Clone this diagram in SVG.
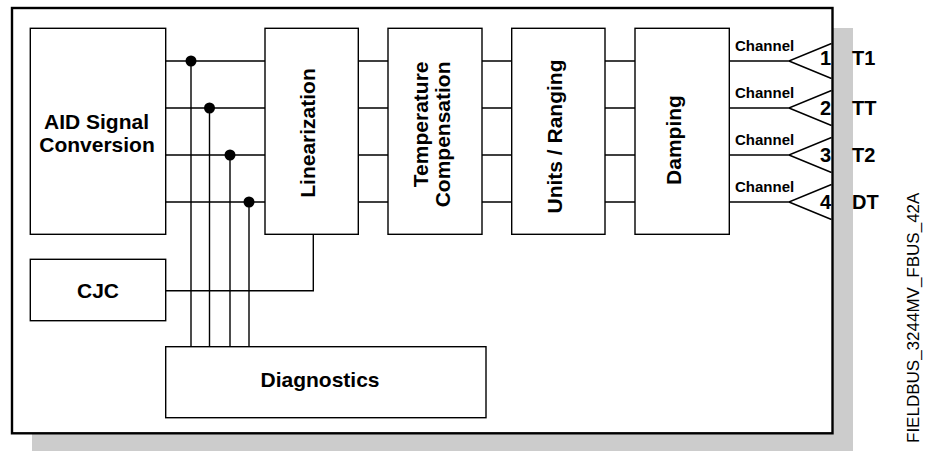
<svg xmlns="http://www.w3.org/2000/svg" width="931" height="451" viewBox="0 0 931 451">
<style>
.box{fill:#fff;stroke:#000;stroke-width:1.4}
.ln{fill:none;stroke:#000;stroke-width:1.4}
.b{font-family:"Liberation Sans",Arial,sans-serif;font-weight:bold;fill:#000}
.big{font-size:21px}
.ch{font-size:15px}
.num{font-size:20px}
.code{font-family:"Liberation Sans",Arial,sans-serif;font-size:17px;fill:#000}
</style>
<rect x="32" y="28" width="821" height="430" fill="#cccccc"/>
<rect x="12" y="8" width="820.5" height="425.3" fill="#fff" stroke="#000" stroke-width="2.4"/>
<g id="connectors">
<path class="ln" d="M165.7 61H265M165.7 108H265M165.7 155H265M165.7 202H265"/>
<path class="ln" d="M358.3 61H388M358.3 108H388M358.3 155H388M358.3 202H388"/>
<path class="ln" d="M482 61H511.7M482 108H511.7M482 155H511.7M482 202H511.7"/>
<path class="ln" d="M605 61H635M605 108H635M605 155H635M605 202H635"/>
<path class="ln" d="M729.3 61H789L831.5 43.5M789 61L831.5 78.5"/>
<path class="ln" d="M729.3 108H789L831.5 90.5M789 108L831.5 125.5"/>
<path class="ln" d="M729.3 155H789L831.5 137.5M789 155L831.5 172.5"/>
<path class="ln" d="M729.3 202H789L831.5 184.5M789 202L831.5 219.5"/>
<path class="ln" d="M191 61V346.7M209.5 108V346.7M230 155V346.7M249 202V346.7"/>
<circle cx="191" cy="61" r="5.5"/>
<circle cx="209.5" cy="108" r="5.5"/>
<circle cx="230" cy="155" r="5.5"/>
<circle cx="249" cy="202" r="5.5"/>
<path class="ln" d="M165.7 290.7H313.3V234.3"/>
</g>
<g id="aid">
<rect class="box" x="30.3" y="28.3" width="135.4" height="206"/>
<text class="b big" x="96.5" y="129.3" text-anchor="middle">AID Signal</text>
<text class="b big" x="97" y="151.7" text-anchor="middle">Conversion</text>
</g>
<g id="linearization">
<rect class="box" x="265" y="28.3" width="93.3" height="206"/>
<text class="b big" transform="translate(315 133) rotate(-90)" text-anchor="middle">Linearization</text>
</g>
<g id="tempcomp">
<rect class="box" x="388" y="28.3" width="94" height="206"/>
<text class="b big" transform="translate(428 61.5) rotate(-90)" text-anchor="end">Temperature</text>
<text class="b big" transform="translate(450 61.5) rotate(-90)" text-anchor="end">Compensation</text>
</g>
<g id="units">
<rect class="box" x="511.7" y="28.3" width="93.3" height="206"/>
<text class="b big" transform="translate(561.5 136.5) rotate(-90)" text-anchor="middle">Units / Ranging</text>
</g>
<g id="damping">
<rect class="box" x="635" y="28.3" width="94.3" height="206"/>
<text class="b big" transform="translate(681 140) rotate(-90)" text-anchor="middle">Damping</text>
</g>
<g id="cjc">
<rect class="box" x="30.3" y="259.3" width="135.4" height="61.4"/>
<text class="b big" x="98" y="298.3" text-anchor="middle">CJC</text>
</g>
<g id="diagnostics">
<rect class="box" x="165.7" y="346.7" width="320.3" height="71"/>
<text class="b big" x="320" y="386.7" text-anchor="middle" textLength="119" lengthAdjust="spacingAndGlyphs">Diagnostics</text>
</g>
<g id="channels">
<text class="b ch" x="735" y="50.5">Channel</text>
<text class="b ch" x="735" y="97.5">Channel</text>
<text class="b ch" x="735" y="144.5">Channel</text>
<text class="b ch" x="735" y="191.5">Channel</text>
<text class="b num" x="831" y="65" text-anchor="end">1</text>
<text class="b num" x="831" y="115" text-anchor="end">2</text>
<text class="b num" x="831" y="161.7" text-anchor="end">3</text>
<text class="b num" x="831" y="209" text-anchor="end">4</text>
<text class="b num" x="852" y="64.5">T1</text>
<text class="b num" x="852" y="115">TT</text>
<text class="b num" x="852" y="161.7">T2</text>
<text class="b num" x="852" y="209">DT</text>
</g>
<text class="code" transform="translate(919 443) rotate(-90)">FIELDBUS_3244MV_FBUS_42A</text>
</svg>
